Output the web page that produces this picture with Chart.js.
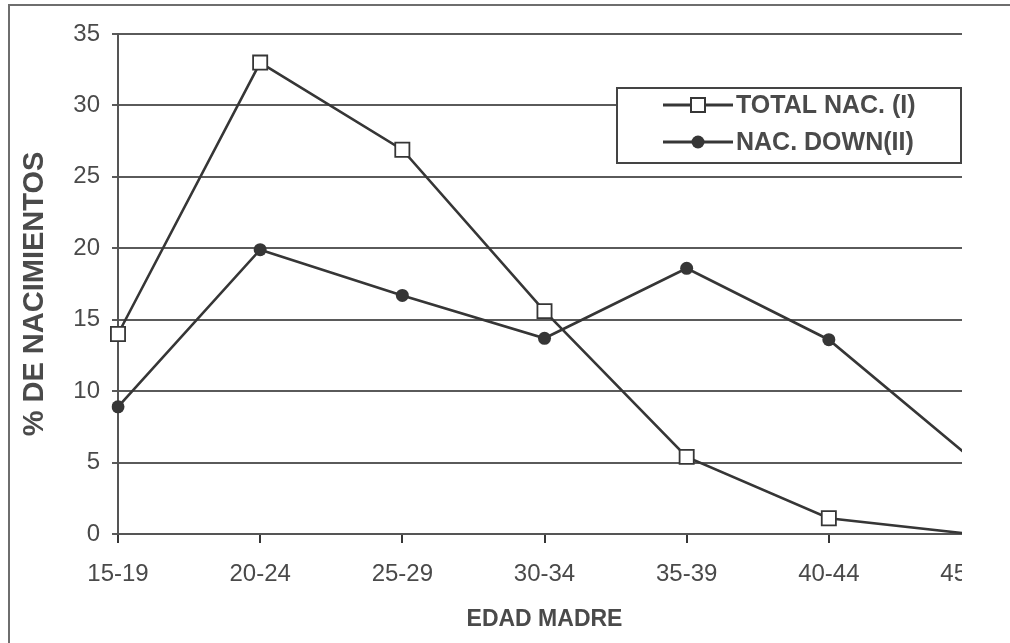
<!DOCTYPE html>
<html>
<head>
<meta charset="utf-8">
<script src="https://cdn.jsdelivr.net/npm/chart.js@4/dist/chart.umd.min.js"></script>
<style>
  html, body { margin: 0; padding: 0; background: #fff; width: 1010px; height: 643px; overflow: hidden; }
  #frame { position: absolute; left: 8px; top: 4px; width: 1010px; height: 660px;
           border-top: 2px solid #6e6e6e; border-left: 2px solid #6e6e6e; }
  #clip { position: absolute; left: 0; top: 0; width: 962px; height: 643px; overflow: hidden; }
  canvas { display: block; }
</style>
</head>
<body>
<div id="frame"></div>
<div id="clip"><canvas id="chart" width="1100" height="643"></canvas></div>
<script>
// Maternal age groups and share of births (%)
const ageGroups   = ['15-19', '20-24', '25-29', '30-34', '35-39', '40-44', '45-49'];
const totalBirths = [14, 33, 26.9, 15.6, 5.4, 1.1, 0];
const downBirths  = [8.9, 19.9, 16.7, 13.7, 18.6, 13.6, 5.3];
const seriesNames = ['TOTAL NAC. (I)', 'NAC. DOWN(II)'];
const yAxisTitle  = '% DE NACIMIENTOS';
const xAxisTitle  = 'EDAD MADRE';
const yMin = 0, yMax = 35, yStep = 5;

const ink = '#363636';
const gridInk = '#5a5a5a';
const textInk = '#4a4a4a';
const FONT = "'Liberation Sans', Arial, sans-serif";

// Boxed legend inside the plot area (top right) and the vertical axis title
const annotations = {
  id: 'annotations',
  afterDraw(chart) {
    const ctx = chart.ctx;
    const x0 = 617, y0 = 88, x1 = 961, y1 = 163;
    ctx.save();
    ctx.fillStyle = '#fff';
    ctx.fillRect(x0, y0, x1 - x0, y1 - y0);
    ctx.strokeStyle = '#444';
    ctx.lineWidth = 2;
    ctx.strokeRect(x0, y0, x1 - x0, y1 - y0);
    const rows = [105, 142];
    chart.data.datasets.forEach((ds, i) => {
      const y = rows[i];
      ctx.strokeStyle = ds.borderColor;
      ctx.lineWidth = 3;
      ctx.beginPath();
      ctx.moveTo(663, y);
      ctx.lineTo(733, y);
      ctx.stroke();
      if (ds.pointStyle === 'rect') {
        ctx.fillStyle = '#fff';
        ctx.lineWidth = 2;
        ctx.fillRect(691, y - 7, 14, 14);
        ctx.strokeRect(691, y - 7, 14, 14);
      } else {
        ctx.fillStyle = ds.pointBackgroundColor;
        ctx.beginPath();
        ctx.arc(698, y, 6.5, 0, Math.PI * 2);
        ctx.fill();
      }
      ctx.fillStyle = textInk;
      ctx.font = 'bold 25px ' + FONT;
      ctx.textBaseline = 'middle';
      ctx.textAlign = 'left';
      ctx.fillText(ds.label, 736, y + 1);
    });

    // vertical axis title
    ctx.translate(35, 294);
    ctx.rotate(-Math.PI / 2);
    ctx.fillStyle = textInk;
    ctx.font = 'bold 29px ' + FONT;
    ctx.textAlign = 'center';
    ctx.textBaseline = 'middle';
    ctx.fillText(yAxisTitle, 0, 0);
    ctx.restore();
  }
};

new Chart(document.getElementById('chart'), {
  type: 'line',
  data: {
    labels: ageGroups,
    datasets: [
      {
        label: seriesNames[0],
        data: totalBirths,
        borderColor: ink,
        borderWidth: 2.6,
        pointStyle: 'rect',
        pointRadius: 10,
        pointBorderWidth: 1.8,
        pointBackgroundColor: '#fff',
        pointBorderColor: ink,
        tension: 0
      },
      {
        label: seriesNames[1],
        data: downBirths,
        borderColor: ink,
        borderWidth: 2.6,
        pointStyle: 'circle',
        pointRadius: 6.5,
        pointBorderWidth: 0,
        pointBackgroundColor: ink,
        pointBorderColor: ink,
        tension: 0
      }
    ]
  },
  options: {
    responsive: false,
    animation: false,
    events: [],
    layout: { padding: { left: 0, top: 34, right: 129, bottom: 0 } },
    plugins: { legend: { display: false }, tooltip: { enabled: false } },
    scales: {
      x: {
        type: 'category',
        offset: false,
        grid: { display: true, drawOnChartArea: false, drawTicks: true, tickLength: 9, color: ink, lineWidth: 2 },
        border: { display: true, color: '#555', width: 2 },
        ticks: { color: textInk, font: { family: FONT, size: 24 }, padding: 17, autoSkip: false, maxRotation: 0 },
        title: { display: true, text: xAxisTitle, color: textInk,
                 font: { family: FONT, size: 23, weight: 'bold' }, padding: { top: 0, bottom: 10 } },
        afterFit(scale) { scale.height = 643 - 534; }
      },
      y: {
        min: yMin, max: yMax,
        ticks: { stepSize: yStep, color: textInk, font: { family: FONT, size: 24 }, padding: 12 },
        grid: { color: gridInk, lineWidth: 2, drawTicks: true, tickLength: 6 },
        border: { display: true, color: '#555', width: 2 },
        title: { display: false },
        afterFit(scale) { scale.width = 118; }
      }
    }
  },
  plugins: [annotations]
});
</script>
</body>
</html>
